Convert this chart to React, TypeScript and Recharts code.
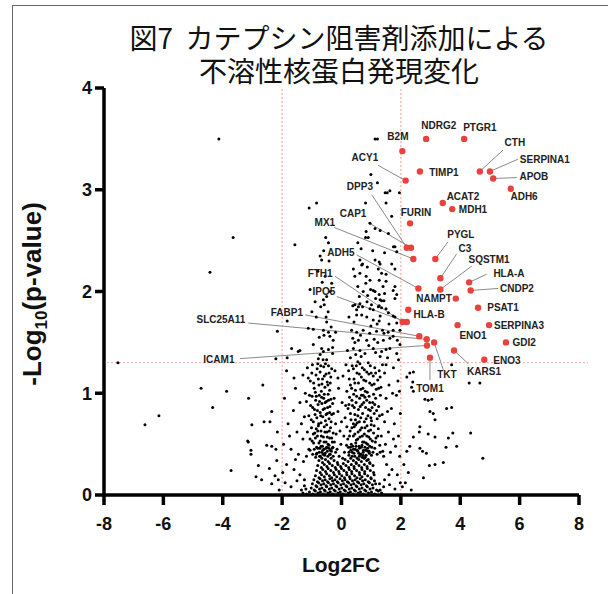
import React from 'react';
import { ScatterChart, Scatter, XAxis, YAxis, ReferenceLine } from 'recharts';

type P = [number, number];

const xTicks = [-8, -6, -4, -2, 0, 2, 4, 6, 8];
const yTicks = [0, 1, 2, 3, 4];
const fcCutoffs = [-2, 2];
const pCutoff = 1.3;

// significant proteins: [name, log2FC, -log10 p]
const hits: [string, number, number][] = [
  ['B2M', 2.05, 3.38], ['NDRG2', 2.85, 3.5], ['PTGR1', 4.13, 3.5], ['ACY1', 2.16, 3.09],
  ['TIMP1', 2.64, 3.18], ['CTH', 4.66, 3.18], ['SERPINA1', 5.0, 3.18], ['APOB', 5.11, 3.11],
  ['ADH6', 5.7, 3.01], ['ACAT2', 3.41, 2.87], ['MDH1', 3.73, 2.81], ['FURIN', 2.31, 2.67],
  ['DPP3', 2.2, 2.43], ['CAP1', 2.34, 2.43], ['MX1', 2.42, 2.32], ['PYGL', 3.16, 2.32],
  ['C3', 3.33, 2.13], ['SQSTM1', 3.33, 2.02], ['ADH5', 2.59, 2.03], ['HLA-A', 4.3, 2.09],
  ['CNDP2', 4.35, 2.01], ['NAMPT', 3.85, 1.93], ['PSAT1', 4.6, 1.84], ['HLA-B', 2.25, 1.82],
  ['FTH1', 2.06, 1.7], ['IPO5', 2.2, 1.7], ['SERPINA3', 4.97, 1.67], ['ENO1', 3.91, 1.67],
  ['FABP1', 2.62, 1.56], ['GDI2', 5.54, 1.5], ['SLC25A11', 2.87, 1.53], ['ICAM1', 2.88, 1.47],
  ['TKT', 3.12, 1.5], ['KARS1', 3.79, 1.42], ['TOM1', 2.98, 1.35], ['ENO3', 4.81, 1.33],
];

// label anchor (data units)
const labelAt: Record<string, P> = {
  B2M: [1.9, 3.52], NDRG2: [3.28, 3.63], PTGR1: [4.66, 3.61], CTH: [5.84, 3.46],
  SERPINA1: [6.85, 3.3], APOB: [6.48, 3.13], ADH6: [6.15, 2.93], ACY1: [0.79, 3.32],
  TIMP1: [3.45, 3.17], ACAT2: [4.09, 2.93], MDH1: [4.43, 2.81], FURIN: [2.51, 2.78],
  DPP3: [0.62, 3.03], CAP1: [0.39, 2.77], MX1: [-0.56, 2.68], PYGL: [4.02, 2.56],
  C3: [4.16, 2.42], SQSTM1: [4.97, 2.31], 'HLA-A': [5.64, 2.18], CNDP2: [5.91, 2.03],
  ADH5: [-0.02, 2.38], FTH1: [-0.72, 2.18], IPO5: [-0.59, 2.0], NAMPT: [3.12, 1.93],
  'HLA-B': [2.95, 1.77], PSAT1: [5.44, 1.84], SERPINA3: [5.98, 1.67], ENO1: [4.43, 1.57],
  GDI2: [6.15, 1.5], FABP1: [-1.84, 1.79], SLC25A11: [-4.06, 1.72], ICAM1: [-4.13, 1.33],
  TKT: [3.55, 1.18], TOM1: [2.98, 1.05], KARS1: [4.8, 1.21], ENO3: [5.57, 1.32],
};

// leader line end near the label (data units)
const leaderEnd: Record<string, P> = {
  CTH: [5.44, 3.39], SERPINA1: [5.94, 3.3], APOB: [5.91, 3.12], ACY1: [1.23, 3.24],
  DPP3: [1.02, 2.95], CAP1: [0.89, 2.68], MX1: [-0.25, 2.63], PYGL: [3.59, 2.49],
  C3: [3.88, 2.37], SQSTM1: [4.39, 2.25], 'HLA-A': [4.89, 2.17], CNDP2: [5.28, 2.03],
  ADH5: [0.51, 2.36], FTH1: [-0.22, 2.15], IPO5: [-0.16, 1.95], FABP1: [-1.23, 1.77],
  SLC25A11: [-3.14, 1.69], ICAM1: [-3.42, 1.34], TKT: [3.43, 1.23], TOM1: [2.98, 1.13],
  KARS1: [4.27, 1.29],
};

const outerLeft: P[] = [
  [-4.13, 3.5], [-3.65, 2.53], [-4.43, 2.19], [-7.53, 1.3], [-6.62, 0.69], [-6.15, 0.78], [-4.73, 1.05],
  [-3.87, 1.02], [-4.34, 0.86], [-3.13, 0.95], [-3.16, 0.53], [-3.72, 0.24], [-2.65, 1.08], [-2.35, 0.82],
  [-2.61, 0.72], [-2.41, 0.72], [-3.02, 0.69], [-2.16, 0.62], [-3.14, 0.52], [-3.05, 0.44], [-3.05, 0.4],
  [-2.52, 0.49], [-2.35, 0.48], [-2.21, 0.45], [-2.8, 0.29], [-2.43, 0.26], [-2.18, 0.34], [-2.88, 0.18],
  [-2.69, 0.15], [-2.24, 0.19], [-2.13, 0.15], [-2.35, 0.11], [-2.16, 1.61], [-2.21, 1.34], [-2.1, 0.05],
];

const outerRight: P[] = [
  [2.42, 1.21], [3.71, 1.28], [4.3, 1.1], [4.66, 1.1], [2.36, 1.06], [2.42, 1.02], [2.81, 0.94], [2.92, 0.93],
  [3.04, 0.94], [3.54, 0.85], [3.71, 0.86], [2.98, 0.82], [3.09, 0.8], [3.15, 0.74], [4.35, 0.61], [2.64, 0.67],
  [2.62, 0.62], [2.92, 0.6], [3.15, 0.57], [2.42, 0.57], [3.6, 0.56], [3.75, 0.61], [3.52, 0.47], [3.88, 0.48],
  [2.64, 0.46], [2.73, 0.43], [2.86, 0.41], [4.76, 0.36], [2.96, 0.29], [3.15, 0.3], [3.43, 0.32], [2.76, 0.17],
  [2.3, 1.2], [2.2, 1.16], [2.4, 1.11], [2.3, 0.48], [2.2, 0.43], [2.1, 0.3], [2.25, 0.22], [2.15, 0.12],
  [2.05, 0.08], [2.35, 0.05],
];

const upperCloud: P[] = [
  [1.13, 3.5], [1.21, 3.5], [0.99, 3.15], [1.21, 3.07], [1.47, 2.97], [1.54, 2.97], [1.63, 2.99], [1.95, 2.97],
  [0.81, 2.87], [1.5, 2.87], [-0.84, 2.87], [-1.09, 2.82], [1.69, 2.74], [0.96, 2.67], [1.13, 2.62], [1.3, 2.6],
  [1.58, 2.57], [0.83, 2.59], [0.81, 2.53], [0.9, 2.53], [-0.53, 2.53], [-0.44, 2.48], [-1.57, 2.46], [0.55, 2.48],
  [0.66, 2.42], [1.75, 2.44], [1.8, 2.44], [1.86, 2.39], [-0.72, 2.35], [-0.67, 2.31], [0.62, 2.31], [0.68, 2.26],
  [1.13, 2.31], [1.27, 2.29], [0.87, 2.24], [1.24, 2.22], [1.35, 2.18], [1.5, 2.17], [0.45, 2.15], [0.62, 2.18],
  [1.8, 2.22], [0.83, 2.15], [0.96, 2.11], [1.27, 2.11], [1.5, 2.1], [0.98, 2.02], [1.13, 2.0], [1.27, 1.97],
  [1.8, 2.05], [1.74, 2.01], [1.86, 1.97], [1.8, 1.93], [-0.33, 2.08], [-1.06, 2.02], [-0.5, 1.95], [-0.61, 1.92],
  [0.45, 1.87], [0.57, 1.85], [0.62, 1.88], [0.96, 1.83], [1.27, 1.86], [1.5, 1.83], [0.71, 2.27], [1.3, 2.27],
  [1.69, 2.27], [-0.65, 2.09], [0.73, 2.0], [1.07, 2.01], [1.45, 1.98], [-0.89, 1.9], [-0.58, 1.87],
  [0.38, 1.86], [0.51, 1.82], [0.71, 1.85], [0.86, 1.9], [1.01, 1.87], [1.07, 1.82], [1.24, 1.85], [1.35, 1.91],
  [0.51, 1.77], [0.68, 1.77], [0.85, 1.75], [1.07, 1.72], [1.3, 1.76], [1.58, 1.79], [1.8, 1.75],
  [-1.83, 1.71], [-0.52, 1.75], [-0.5, 1.7], [-1.12, 1.64], [-0.95, 1.63], [-0.61, 1.62], [-0.44, 1.6],
  [-0.59, 1.57], [-0.39, 1.56], [-0.28, 1.52], [0.34, 1.62], [0.51, 1.6], [0.73, 1.62], [0.95, 1.59],
  [1.18, 1.61], [1.38, 1.62], [1.57, 1.6], [1.74, 1.62], [0.38, 1.54], [0.57, 1.52], [0.85, 1.52], [1.1, 1.53],
  [1.41, 1.52], [1.63, 1.54], [-1.68, 1.44], [-1.4, 1.42], [-0.67, 1.44], [-0.61, 1.41], [-0.44, 1.43],
  [-0.3, 1.39], [0.4, 1.44], [0.62, 1.42], [0.79, 1.39], [1.07, 1.44], [1.35, 1.41], [1.63, 1.44], [1.86, 1.39],
  [-1.83, 1.35], [-0.78, 1.34], [-0.5, 1.33], [1.3, 1.92], [1.43, 1.91], [1.35, 1.84], [1.74, 1.76], [1.27, 1.71],
  [1.86, 1.69], [1.97, 1.62], [1.43, 1.59], [1.74, 1.56], [1.97, 1.48], [1.5, 1.43], [1.3, 1.36], [1.92, 1.33],
  [-1.46, 1.41],
  [0.3, 1.35], [0.48, 1.38], [0.66, 1.36], [0.92, 1.47], [1.15, 1.4], [1.22, 1.5], [0.45, 1.5], [0.64, 1.57],
  [0.99, 1.66], [1.2, 1.68], [0.42, 1.7], [0.6, 1.95], [0.88, 1.96], [1.15, 1.93], [0.55, 2.05], [0.82, 2.08],
  [1.4, 2.05], [0.4, 2.22], [1.05, 2.4], [1.45, 2.38], [1.6, 1.68], [1.88, 1.52], [1.55, 1.35], [0.2, 1.42],
  [0.25, 1.75], [-0.75, 1.55], [-0.85, 1.75], [-0.7, 1.85], [-0.45, 1.8], [-0.38, 2.0], [-0.8, 2.2],
  [-0.55, 2.15], [-0.42, 2.3], [-0.95, 1.48], [-0.35, 1.65], [-0.72, 1.38], [-1.0, 1.8], [-0.6, 2.4],
  [-0.3, 1.45], [-0.2, 1.6],
];

// sparse left fringe, -2 < log2FC < -1.2
const fringeLeft: P[] = [
  [-1.85, 1.22], [-1.55, 1.05], [-1.3, 1.18], [-1.92, 0.95], [-1.62, 0.83], [-1.4, 0.91], [-1.25, 0.77],
  [-1.8, 0.7], [-1.5, 0.62], [-1.3, 0.55], [-1.95, 0.5], [-1.7, 0.45], [-1.45, 0.4], [-1.28, 0.33],
  [-1.85, 0.3], [-1.6, 0.25], [-1.4, 0.2], [-1.25, 0.15], [-1.9, 0.12], [-1.7, 0.08], [-1.5, 0.14],
  [-1.35, 0.05], [-1.75, 0.58], [-1.22, 1.0], [-1.6, 1.15], [-1.98, 0.22], [-1.55, 0.35], [-1.35, 0.7],
];

// left lobe, -1.2 < log2FC < -0.3
const lobeLeft: P[] = [
  [-1.15, 1.25], [-1.05, 1.12], [-0.98, 1.28], [-0.92, 1.05], [-0.86, 1.18], [-0.8, 1.29], [-0.76, 1.08],
  [-0.72, 1.21], [-0.68, 1.02], [-0.64, 1.14], [-0.6, 1.26], [-0.56, 1.06], [-0.52, 1.19], [-0.48, 1.11],
  [-0.44, 1.27], [-0.4, 1.03], [-0.36, 1.16], [-0.33, 1.24], [-0.62, 1.33], [-0.88, 1.01],
  [-1.18, 0.92], [-1.1, 0.78], [-1.04, 0.88], [-0.99, 0.97], [-0.95, 0.72], [-0.91, 0.84], [-0.87, 0.93],
  [-0.83, 0.76], [-0.79, 0.89], [-0.75, 0.98], [-0.72, 0.81], [-0.69, 0.71], [-0.66, 0.9], [-0.63, 0.77],
  [-0.6, 0.95], [-0.57, 0.85], [-0.54, 0.73], [-0.51, 0.92], [-0.48, 0.8], [-0.45, 0.99], [-0.42, 0.75],
  [-0.39, 0.87], [-0.36, 0.94], [-0.33, 0.79], [-0.3, 0.9], [-0.77, 0.7], [-0.58, 0.99], [-1.02, 0.74],
  [-1.15, 0.62], [-1.1, 0.45], [-1.06, 0.55], [-1.01, 0.66], [-0.97, 0.4], [-0.94, 0.51], [-0.9, 0.61],
  [-0.87, 0.37], [-0.84, 0.47], [-0.81, 0.58], [-0.78, 0.68], [-0.75, 0.42], [-0.72, 0.53], [-0.69, 0.63],
  [-0.66, 0.36], [-0.64, 0.48], [-0.61, 0.57], [-0.58, 0.67], [-0.55, 0.41], [-0.52, 0.52], [-0.49, 0.62],
  [-0.46, 0.38], [-0.43, 0.46], [-0.4, 0.56], [-0.37, 0.66], [-0.34, 0.43], [-0.31, 0.52], [-0.28, 0.61],
  [-0.85, 0.65], [-0.62, 0.4], [-0.5, 0.69], [-0.95, 0.6], [-0.73, 0.46], [-1.18, 0.38], [-0.4, 0.4],
  [-1.12, 1.15], [-1.0, 1.2], [-0.94, 1.1], [-0.82, 1.24], [-0.78, 1.14], [-0.7, 1.27], [-0.66, 1.09],
  [-0.58, 1.17], [-0.54, 1.29], [-0.46, 1.08], [-0.42, 1.2], [-0.38, 1.1], [-1.08, 0.98], [-0.97, 0.86],
  [-0.89, 0.79], [-0.85, 0.97], [-0.81, 0.83], [-0.74, 0.92], [-0.7, 0.78], [-0.67, 0.96], [-0.62, 0.84],
  [-0.55, 0.91], [-0.52, 0.79], [-0.47, 0.86], [-0.44, 0.93], [-0.4, 0.81], [-0.35, 0.72], [-1.06, 0.44],
  [-0.99, 0.53], [-0.92, 0.45], [-0.88, 0.56], [-0.83, 0.41], [-0.8, 0.63], [-0.76, 0.51], [-0.71, 0.38],
  [-0.68, 0.58], [-0.63, 0.44], [-0.59, 0.52], [-0.56, 0.62], [-0.53, 0.46], [-0.48, 0.57], [-0.45, 0.5],
  [-0.41, 0.63], [-0.38, 0.44], [-0.33, 0.56], [-0.29, 0.47],
];

// sparse gap around zero, -0.3 < log2FC < 0.2
const gapMid: P[] = [
  [-0.22, 1.22], [-0.1, 1.05], [0.05, 1.17], [0.15, 1.28], [-0.25, 0.95], [-0.12, 0.82], [0.02, 0.91],
  [0.12, 0.76], [-0.2, 0.7], [-0.05, 0.63], [0.08, 0.58], [0.18, 0.67], [-0.24, 0.52], [-0.15, 0.45],
  [-0.02, 0.5], [0.1, 0.42], [0.17, 0.49], [-0.08, 0.38], [0.04, 0.36], [-0.18, 0.6], [0.14, 0.88],
  [-0.27, 0.8], [0.0, 0.72], [-0.12, 1.15], [0.18, 1.02],
];

// right lobe, 0.2 < log2FC < 1.4
const lobeRight: P[] = [
  [0.24, 1.22], [0.3, 1.08], [0.36, 1.27], [0.42, 1.14], [0.47, 1.03], [0.52, 1.2], [0.57, 1.1],
  [0.62, 1.29], [0.67, 1.16], [0.72, 1.05], [0.77, 1.23], [0.82, 1.12], [0.87, 1.01], [0.92, 1.19],
  [0.97, 1.27], [1.02, 1.08], [1.07, 1.17], [1.12, 1.25], [1.17, 1.04], [1.22, 1.13], [1.27, 1.22],
  [1.33, 1.06], [1.38, 1.28], [0.55, 1.31], [0.9, 1.3],
  [0.22, 0.85], [0.27, 0.96], [0.32, 0.74], [0.37, 0.88], [0.41, 0.99], [0.45, 0.79], [0.49, 0.91],
  [0.53, 0.71], [0.57, 0.84], [0.61, 0.95], [0.65, 0.76], [0.69, 0.89], [0.73, 0.98], [0.77, 0.72],
  [0.81, 0.86], [0.85, 0.93], [0.89, 0.78], [0.93, 0.97], [0.97, 0.83], [1.01, 0.73], [1.05, 0.91],
  [1.1, 0.8], [1.15, 0.95], [1.2, 0.75], [1.25, 0.87], [1.31, 0.98], [1.37, 0.79], [0.6, 0.72],
  [0.4, 0.7], [1.08, 0.99],
  [0.21, 0.55], [0.25, 0.42], [0.29, 0.63], [0.33, 0.5], [0.36, 0.38], [0.4, 0.58], [0.43, 0.67],
  [0.46, 0.45], [0.5, 0.54], [0.53, 0.36], [0.56, 0.62], [0.59, 0.48], [0.62, 0.57], [0.65, 0.4],
  [0.68, 0.66], [0.71, 0.52], [0.74, 0.44], [0.77, 0.6], [0.8, 0.37], [0.83, 0.51], [0.86, 0.68],
  [0.89, 0.43], [0.92, 0.57], [0.95, 0.48], [0.98, 0.64], [1.01, 0.39], [1.04, 0.53], [1.08, 0.61],
  [1.12, 0.46], [1.16, 0.56], [1.2, 0.4], [1.24, 0.65], [1.29, 0.49], [1.34, 0.58], [1.39, 0.43],
  [0.48, 0.69], [0.7, 0.37], [0.9, 0.35], [0.58, 0.41], [1.0, 0.69],
  [0.26, 1.14], [0.34, 1.05], [0.4, 1.24], [0.45, 1.1], [0.5, 1.27], [0.6, 1.19], [0.65, 1.04],
  [0.7, 1.25], [0.75, 1.13], [0.8, 1.02], [0.85, 1.21], [0.95, 1.1], [1.0, 1.2], [1.1, 1.09],
  [1.15, 1.2], [1.25, 1.05], [1.3, 1.16], [0.25, 0.89], [0.3, 0.8], [0.35, 0.93], [0.43, 0.86],
  [0.47, 0.74], [0.51, 0.97], [0.55, 0.78], [0.63, 0.87], [0.67, 0.98], [0.71, 0.8], [0.75, 0.91],
  [0.79, 0.96], [0.83, 0.75], [0.91, 0.84], [0.95, 0.91], [0.99, 0.76], [1.03, 0.86], [1.12, 0.89],
  [1.18, 0.83], [1.28, 0.78], [0.23, 0.47], [0.27, 0.58], [0.31, 0.44], [0.35, 0.66], [0.38, 0.48],
  [0.42, 0.41], [0.45, 0.6], [0.48, 0.51], [0.52, 0.44], [0.55, 0.55], [0.6, 0.38], [0.63, 0.64],
  [0.67, 0.47], [0.7, 0.58], [0.73, 0.39], [0.76, 0.52], [0.79, 0.66], [0.82, 0.44], [0.85, 0.58],
  [0.88, 0.5], [0.91, 0.63], [0.94, 0.41], [0.97, 0.55], [1.02, 0.47], [1.06, 0.42], [1.1, 0.68],
  [1.14, 0.52], [1.22, 0.58], [1.3, 0.42],
];

// right fringe, 1.4 < log2FC < 2
const fringeRight: P[] = [
  [1.45, 1.2], [1.6, 1.08], [1.75, 1.25], [1.9, 1.12], [1.5, 0.95], [1.68, 0.85], [1.85, 0.98], [1.98, 0.8],
  [1.45, 0.72], [1.58, 0.62], [1.78, 0.7], [1.92, 0.58], [1.48, 0.5], [1.65, 0.42], [1.82, 0.48], [1.96, 0.38],
  [1.52, 0.3], [1.7, 0.25], [1.88, 0.2], [1.45, 0.15], [1.62, 0.1], [1.8, 0.06], [1.55, 0.82], [1.72, 1.0],
  [1.42, 0.38], [1.95, 1.02], [1.6, 0.2], [1.98, 0.12], [1.75, 0.55], [1.5, 1.28],
];

// dense core near log2FC = 0, low significance
const core: P[] = [
  [-1.08, 0.03], [-0.97, 0.01], [-0.88, 0.04], [-0.79, 0.02], [-0.71, 0.03], [-0.62, 0.01], [-0.55, 0.04],
  [-0.46, 0.02], [-0.38, 0.03], [-0.29, 0.01], [-0.21, 0.04], [-0.12, 0.02], [-0.04, 0.03], [0.05, 0.01],
  [0.13, 0.04], [0.22, 0.02], [0.3, 0.03], [0.39, 0.01], [0.47, 0.04], [0.56, 0.02], [0.64, 0.03],
  [0.73, 0.01], [0.82, 0.04], [0.91, 0.02], [1.01, 0.03], [1.12, 0.01], [1.24, 0.04],
  [-1.02, 0.07], [-0.92, 0.05], [-0.83, 0.08], [-0.74, 0.06], [-0.66, 0.07], [-0.58, 0.05], [-0.5, 0.08],
  [-0.41, 0.06], [-0.33, 0.07], [-0.25, 0.05], [-0.16, 0.08], [-0.08, 0.06], [0.01, 0.07], [0.09, 0.05],
  [0.18, 0.08], [0.26, 0.06], [0.35, 0.07], [0.43, 0.05], [0.52, 0.08], [0.6, 0.06], [0.69, 0.07],
  [0.78, 0.05], [0.87, 0.08], [0.96, 0.06], [1.06, 0.07], [1.18, 0.05],
  [-0.98, 0.11], [-0.86, 0.09], [-0.77, 0.12], [-0.69, 0.1], [-0.6, 0.11], [-0.52, 0.09], [-0.44, 0.12],
  [-0.36, 0.1], [-0.27, 0.11], [-0.19, 0.09], [-0.11, 0.12], [-0.02, 0.1], [0.07, 0.11], [0.15, 0.09],
  [0.24, 0.12], [0.32, 0.1], [0.41, 0.11], [0.49, 0.09], [0.58, 0.12], [0.66, 0.1], [0.75, 0.11],
  [0.84, 0.09], [0.94, 0.12], [1.04, 0.1], [1.15, 0.11],
  [-0.93, 0.15], [-0.81, 0.13], [-0.72, 0.16], [-0.64, 0.14], [-0.55, 0.15], [-0.47, 0.13], [-0.39, 0.16],
  [-0.3, 0.14], [-0.22, 0.15], [-0.14, 0.13], [-0.05, 0.16], [0.03, 0.14], [0.12, 0.15], [0.2, 0.13],
  [0.29, 0.16], [0.37, 0.14], [0.46, 0.15], [0.54, 0.13], [0.63, 0.16], [0.71, 0.14], [0.8, 0.15],
  [0.9, 0.13], [1.0, 0.16], [1.11, 0.14],
  [-0.88, 0.19], [-0.76, 0.17], [-0.67, 0.2], [-0.58, 0.18], [-0.5, 0.21], [-0.41, 0.19], [-0.33, 0.17],
  [-0.24, 0.2], [-0.16, 0.18], [-0.07, 0.21], [0.01, 0.19], [0.1, 0.17], [0.18, 0.2], [0.27, 0.18],
  [0.35, 0.21], [0.44, 0.19], [0.52, 0.17], [0.61, 0.2], [0.69, 0.18], [0.78, 0.21], [0.88, 0.19],
  [0.99, 0.17], [1.1, 0.2],
  [-0.84, 0.24], [-0.72, 0.22], [-0.63, 0.25], [-0.54, 0.23], [-0.45, 0.26], [-0.36, 0.24], [-0.27, 0.22],
  [-0.18, 0.25], [-0.09, 0.23], [0.0, 0.26], [0.08, 0.24], [0.17, 0.22], [0.26, 0.25], [0.34, 0.23],
  [0.43, 0.26], [0.51, 0.24], [0.6, 0.22], [0.69, 0.25], [0.78, 0.23], [0.87, 0.26], [0.97, 0.24],
  [1.08, 0.22],
  [-0.8, 0.29], [-0.68, 0.27], [-0.58, 0.3], [-0.49, 0.28], [-0.4, 0.31], [-0.31, 0.29], [-0.21, 0.27],
  [-0.12, 0.3], [-0.03, 0.28], [0.06, 0.31], [0.15, 0.29], [0.24, 0.27], [0.33, 0.3], [0.42, 0.28],
  [0.5, 0.31], [0.59, 0.29], [0.68, 0.27], [0.77, 0.3], [0.86, 0.28], [0.96, 0.31], [1.06, 0.29],
  [-0.76, 0.34], [-0.64, 0.32], [-0.54, 0.35], [-0.45, 0.33], [-0.35, 0.36], [-0.25, 0.34], [-0.14, 0.32],
  [0.12, 0.35], [0.22, 0.33], [0.31, 0.36], [0.4, 0.34], [0.49, 0.32], [0.58, 0.35], [0.67, 0.33],
  [0.76, 0.36], [0.85, 0.34], [0.95, 0.32],
  [-0.85, 0.4], [-0.74, 0.38], [-0.66, 0.42], [-0.57, 0.39], [-0.48, 0.43], [-0.38, 0.4], [-0.28, 0.38],
  [-0.2, 0.42], [0.25, 0.39], [0.36, 0.42], [0.45, 0.38], [0.55, 0.43], [0.64, 0.4], [0.73, 0.42],
  [0.83, 0.39], [0.93, 0.43], [-0.8, 0.46], [-0.69, 0.48], [-0.6, 0.45], [-0.5, 0.47], [-0.42, 0.49],
  [-0.32, 0.46], [0.3, 0.47], [0.4, 0.45], [0.49, 0.48], [0.6, 0.46], [0.69, 0.49], [0.79, 0.47], [0.88, 0.46],
  [-1.3, 0.02], [-1.2, 0.06], [-1.18, 0.01], [1.35, 0.02], [1.3, 0.05], [1.42, 0.08], [-1.25, 0.09], [1.28, 0.11],
];

const toPts = (a: P[]) => a.map(([x, y]) => ({ x, y }));
const backgroundPts = toPts([
  ...outerLeft, ...outerRight, ...upperCloud, ...fringeLeft, ...lobeLeft, ...gapMid, ...lobeRight, ...fringeRight, ...core,
]);
const hitPts = hits.map(([name, x, y]) => ({ name, x, y }));
const labelPts = hits.map(([name]) => ({ name, x: labelAt[name][0], y: labelAt[name][1] }));

const FONT = '"Liberation Sans", Arial, sans-serif';

const BlackDot = (p: any) => <circle cx={p.cx} cy={p.cy} r={1.5} fill="#000" />;
const RedDot = (p: any) => <circle cx={p.cx} cy={p.cy} r={3.2} fill="#e8413e" />;
const LabelText = (p: any) => (
  <text x={p.cx} y={p.cy} textAnchor="middle" dominantBaseline="central" fontSize={10} fontWeight={700}
    fill="#222" fontFamily={FONT}>{p.payload.name}</text>
);

export default function App() {
  return (
    <div style={{ position: 'absolute', left: 0, top: 0, width: 608, height: 594, background: '#fff', overflow: 'hidden' }}>
      <div style={{ position: 'absolute', left: 12, top: 5, width: 620, height: 620, borderTop: '1.5px solid #666', borderLeft: '1.5px solid #666' }} />
      <div style={{ position: 'absolute', left: 89, top: 21, width: 500, textAlign: 'center', fontFamily: '"Noto Sans CJK JP", sans-serif', fontSize: 28, lineHeight: '33px', color: '#111' }}>
        図7&nbsp;&nbsp;カテプシン阻害剤添加による<br />不溶性核蛋白発現変化
      </div>
      <div style={{ position: 'absolute', left: 0, top: 0 }}>
        <ScatterChart width={608} height={594} margin={{ top: 88, right: 29, bottom: 39, left: 44 }}>
          <XAxis type="number" dataKey="x" domain={[-8, 8]} ticks={xTicks} interval={0} allowDataOverflow
            tick={{ fontSize: 18, fontWeight: 700, fill: '#111', fontFamily: FONT }}
            axisLine={{ stroke: '#000', strokeWidth: 3.5 }} tickLine={{ stroke: '#000', strokeWidth: 3.5 }}
            tickSize={10} tickMargin={12} height={60} />
          <YAxis type="number" dataKey="y" domain={[0, 4]} ticks={yTicks} interval={0} allowDataOverflow
            tick={{ fontSize: 18, fontWeight: 700, fill: '#111', fontFamily: FONT }}
            axisLine={{ stroke: '#000', strokeWidth: 3.5 }} tickLine={{ stroke: '#000', strokeWidth: 3.5 }}
            tickSize={9} tickMargin={3} width={60} />
          {fcCutoffs.map((v) => (
            <ReferenceLine key={'v' + v} x={v} stroke="#eda592" strokeWidth={1} strokeDasharray="2 2" />
          ))}
          <ReferenceLine segment={[{ x: -7.9, y: pCutoff }, { x: 8.3, y: pCutoff }]} stroke="#eda592" strokeWidth={1}
            strokeDasharray="2 2" ifOverflow="visible" />
          <Scatter data={backgroundPts} shape={BlackDot} isAnimationActive={false} />
          {hits.filter(([name]) => leaderEnd[name]).map(([name, x, y]) => (
            <ReferenceLine key={'l' + name} segment={[{ x, y }, { x: leaderEnd[name][0], y: leaderEnd[name][1] }]}
              stroke="#8a8a8a" strokeWidth={1} ifOverflow="visible" />
          ))}
          <Scatter data={hitPts} shape={RedDot} isAnimationActive={false} />
          <Scatter data={labelPts} shape={LabelText} isAnimationActive={false} />
        </ScatterChart>
      </div>
      <svg width={608} height={594} style={{ position: 'absolute', left: 0, top: 0, pointerEvents: 'none' }}>
        <text x={341} y={572} textAnchor="middle" fontSize={21} fontWeight={700} fill="#111" fontFamily={FONT}>Log2FC</text>
        <text transform="translate(41,294) rotate(-90)" textAnchor="middle" fontSize={26} fontWeight={700} fill="#111" fontFamily={FONT}>
          -Log<tspan fontSize={17} dy={6}>10</tspan><tspan dy={-6}>(p-value)</tspan>
        </text>
      </svg>
    </div>
  );
}
